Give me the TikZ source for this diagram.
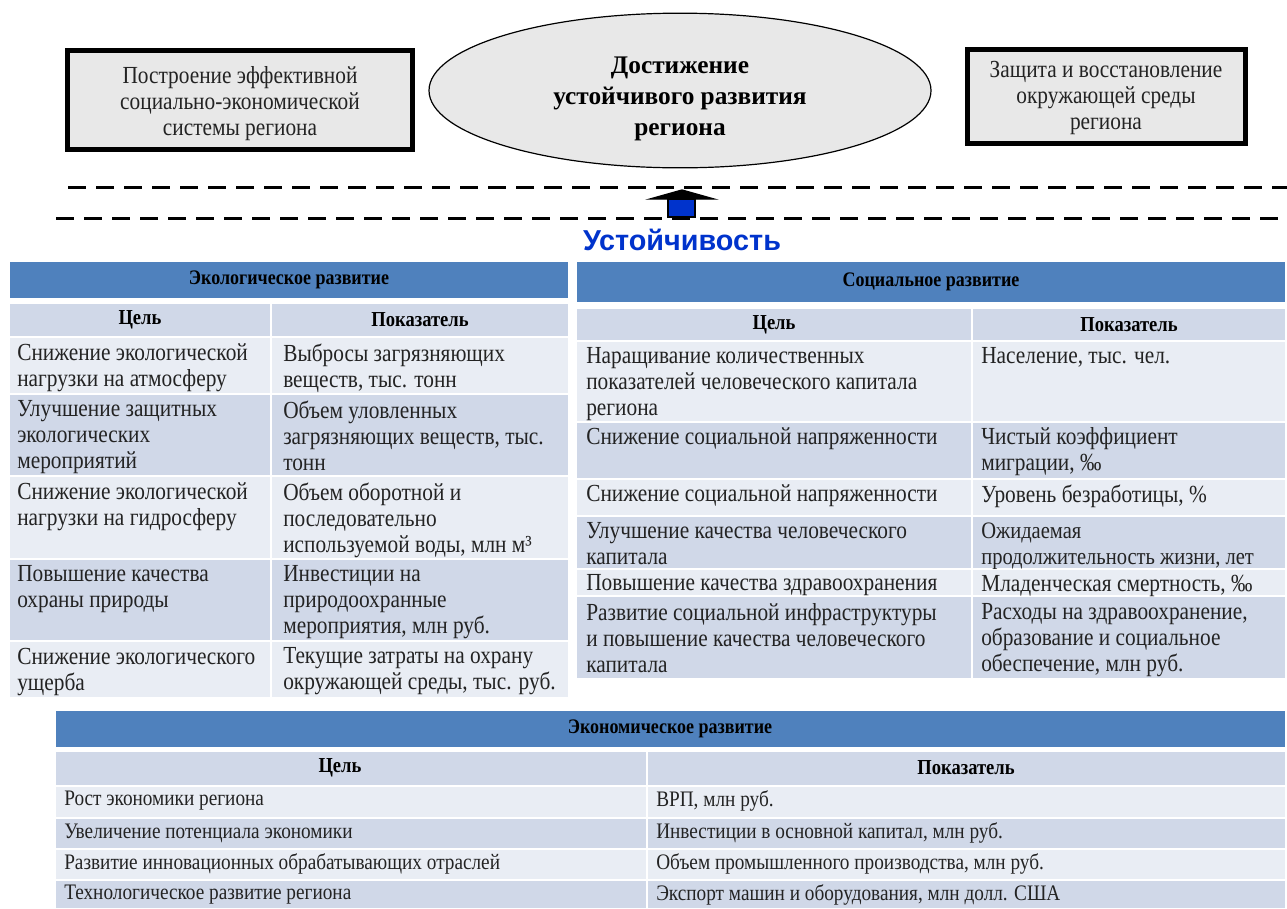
\documentclass[tikz,border=0pt]{standalone}
\usepackage{fontspec}
\setmainfont{Liberation Serif}[FakeStretch=0.87]
\newfontfamily\plainserif{Liberation Serif}
\newfontfamily\arialfont{Liberation Sans}
\usetikzlibrary{shapes.geometric}
\definecolor{hdrblue}{RGB}{79,129,189}
\definecolor{rowdark}{RGB}{208,216,232}
\definecolor{rowlight}{RGB}{233,237,244}
\definecolor{boxgray}{RGB}{232,232,232}
\definecolor{ublue}{RGB}{0,51,204}
\definecolor{txt}{RGB}{35,35,35}
\newcommand{\tabfont}{\fontsize{18.4}{19.5}\selectfont}
\newcommand{\smfont}{\fontsize{16.6}{19}\selectfont}
\newcommand{\hdrfont}{\bfseries\fontsize{15.5}{17}\selectfont}
\newcommand{\colfont}{\bfseries\fontsize{16}{17}\selectfont}
\begin{document}
\begin{tikzpicture}[x=0.75pt,y=-0.75pt,
  topbox/.style={draw=black, line width=3.75pt, fill=boxgray, inner sep=0pt},
  boxtext/.style={inner sep=0pt, align=center, font=\tabfont, text=txt},
  goal/.style={draw=black, line width=0.9pt, fill=boxgray, ellipse, inner sep=0pt},
  goaltext/.style={inner sep=0pt, align=center, font=\plainserif\bfseries\fontsize{19}{23}\selectfont},
  dashline/.style={line width=2.25pt, dash pattern=on 13.5pt off 7.5pt},
  hdr/.style={inner sep=0pt, font=\hdrfont, text=black},
  colh/.style={inner sep=0pt, font=\colfont, text=black},
  ct/.style={anchor=north west, inner sep=0pt, align=left, font=\tabfont, text=txt},
  cs/.style={anchor=west, inner sep=0pt, align=left, font=\smfont, text=txt}
]
\useasboundingbox (0,0) rectangle (1287,908);

% ---------- top ----------
\node[topbox, minimum width=258.75pt, minimum height=74.25pt] (boxL) at (240,100) {};
\node[boxtext] (boxLt) at (240,104) {Построение эффективной\\социально-экономической\\системы региона};
\node[goal, minimum width=376.5pt, minimum height=116pt] (goal) at (680,90.5) {};
\node[goaltext] (goalt) at (680,99) {Достижение\\устойчивого развития\\региона};
\node[topbox, minimum width=208.5pt, minimum height=70.5pt] (boxR) at (1106,96) {};
\node[boxtext] (boxRt) at (1106,98) {Защита и восстановление\\окружающей среды\\региона};

\coordinate (d1a) at (68,187); \coordinate (d1b) at (1287,187);
\coordinate (d2a) at (56,218); \coordinate (d2b) at (1287,218);
\draw[dashline] (d1a) -- (d1b);
\draw[dashline] (d2a) -- (d2b);

\filldraw[fill=ublue, draw=black, line width=1.2pt]
  (668,217) -- (668,199) -- (695,199) -- (695,217) -- cycle;
\filldraw[fill=black, draw=black, line width=1pt, line join=miter]
  (650,199) -- (682,190) -- (714,199) -- cycle;
\node[inner sep=0pt, font=\arialfont\bfseries\fontsize{21.6}{24}\selectfont, text=ublue] (ust) at (682,240) {Устойчивость};

% ---------- ecological table ----------
\fill[hdrblue] (10,262) rectangle (568,298);
\node[hdr] (ekoH) at (289,280) {Экологическое развитие};
\fill[rowdark] (10,304) rectangle (270,336);
\fill[rowdark] (272,304) rectangle (568,336);
\node[colh] (ekoC1) at (140,320) {Цель};
\node[colh] (ekoC2) at (420,320) {Показатель};
\fill[rowlight] (10,338) rectangle (270,393); \fill[rowlight] (272,338) rectangle (568,393);
\fill[rowdark]  (10,395) rectangle (270,475); \fill[rowdark]  (272,395) rectangle (568,475);
\fill[rowlight] (10,477) rectangle (270,558); \fill[rowlight] (272,477) rectangle (568,558);
\fill[rowdark]  (10,560) rectangle (270,640); \fill[rowdark]  (272,560) rectangle (568,640);
\fill[rowlight] (10,642) rectangle (270,697); \fill[rowlight] (272,642) rectangle (568,697);
\node[ct] (e1a) at (17,343.5) {Снижение экологической\\нагрузки на атмосферу};
\node[ct] (e1b) at (283,343.5) {Выбросы загрязняющих\\веществ, тыс. тонн};
\node[ct] (e2a) at (17,400.5) {Улучшение защитных\\экологических\\мероприятий};
\node[ct] (e2b) at (283,400.5) {Объем уловленных\\загрязняющих веществ, тыс.\\тонн};
\node[ct] (e3a) at (17,482.5) {Снижение экологической\\нагрузки на гидросферу};
\node[ct] (e3b) at (283,482.5) {Объем оборотной и\\последовательно\\используемой воды, млн м³};
\node[ct] (e4a) at (17,565.5) {Повышение качества\\охраны природы};
\node[ct] (e4b) at (283,565.5) {Инвестиции на\\природоохранные\\мероприятия, млн  руб.};
\node[ct] (e5a) at (17,647.5) {Снижение экологического\\ущерба};
\node[ct] (e5b) at (283,647.5) {Текущие затраты на охрану\\окружающей среды, тыс. руб.};

% ---------- social table ----------
\fill[hdrblue] (577,262) rectangle (1285,302);
\node[hdr] (socH) at (931,282) {Социальное развитие};
\fill[rowdark] (577,309) rectangle (971,340);
\fill[rowdark] (973,309) rectangle (1285,340);
\node[colh] (socC1) at (774,325) {Цель};
\node[colh] (socC2) at (1129,325) {Показатель};
\fill[rowlight] (577,342) rectangle (971,421); \fill[rowlight] (973,342) rectangle (1285,421);
\fill[rowdark]  (577,423) rectangle (971,478); \fill[rowdark]  (973,423) rectangle (1285,478);
\fill[rowlight] (577,480) rectangle (971,515); \fill[rowlight] (973,480) rectangle (1285,515);
\fill[rowdark]  (577,517) rectangle (971,568); \fill[rowdark]  (973,517) rectangle (1285,568);
\fill[rowlight] (577,570) rectangle (971,595); \fill[rowlight] (973,570) rectangle (1285,595);
\fill[rowdark]  (577,597) rectangle (971,678); \fill[rowdark]  (973,597) rectangle (1285,678);
\node[ct] (s1a) at (586,347.5) {Наращивание количественных\\показателей человеческого капитала\\региона};
\node[ct] (s1b) at (981,347.5) {Население, тыс. чел.};
\node[ct] (s2a) at (586,427.5) {Снижение социальной напряженности};
\node[ct] (s2b) at (981,427.5) {Чистый коэффициент\\миграции, ‰};
\node[ct] (s3a) at (586,484.5) {Снижение социальной напряженности};
\node[ct] (s3b) at (981,484.5) {Уровень безработицы, \%};
\node[ct] (s4a) at (586,522.5) {Улучшение качества человеческого\\капитала};
\node[ct, font=\fontsize{17.7}{19.5}\selectfont] (s4b) at (981,522.5) {Ожидаемая\\продолжительность жизни, лет};
\node[ct] (s5a) at (586,574.5) {Повышение качества здравоохранения};
\node[ct] (s5b) at (981,574.5) {Младенческая смертность, ‰};
\node[ct] (s6a) at (586,603.5) {Развитие социальной инфраструктуры\\и повышение качества человеческого\\капитала};
\node[ct] (s6b) at (981,603.5) {Расходы на здравоохранение,\\образование и социальное\\обеспечение, млн  руб.};

% ---------- economic table ----------
\fill[hdrblue] (56,711) rectangle (1285,747);
\node[hdr] (ecoH) at (670,729) {Экономическое развитие};
\fill[rowdark] (56,752) rectangle (646,785);
\fill[rowdark] (648,752) rectangle (1285,785);
\node[colh] (ecoC1) at (340,768) {Цель};
\node[colh] (ecoC2) at (966,768) {Показатель};
\fill[rowlight] (56,787) rectangle (646,817); \fill[rowlight] (648,787) rectangle (1285,817);
\fill[rowdark]  (56,819) rectangle (646,848); \fill[rowdark]  (648,819) rectangle (1285,848);
\fill[rowlight] (56,850) rectangle (646,879); \fill[rowlight] (648,850) rectangle (1285,879);
\fill[rowdark]  (56,881) rectangle (646,908); \fill[rowdark]  (648,881) rectangle (1285,908);
\node[cs] (c1a) at (64,801) {Рост экономики региона};
\node[cs] (c1b) at (656,801) {ВРП, млн руб.};
\node[cs] (c2a) at (64,833) {Увеличение потенциала экономики};
\node[cs] (c2b) at (656,833) {Инвестиции в основной капитал, млн руб.};
\node[cs] (c3a) at (64,864) {Развитие инновационных обрабатывающих отраслей};
\node[cs] (c3b) at (656,864) {Объем промышленного производства, млн руб.};
\node[cs] (c4a) at (64,895) {Технологическое развитие региона};
\node[cs] (c4b) at (656,895) {Экспорт машин и оборудования, млн долл. США};
\end{tikzpicture}
\end{document}
